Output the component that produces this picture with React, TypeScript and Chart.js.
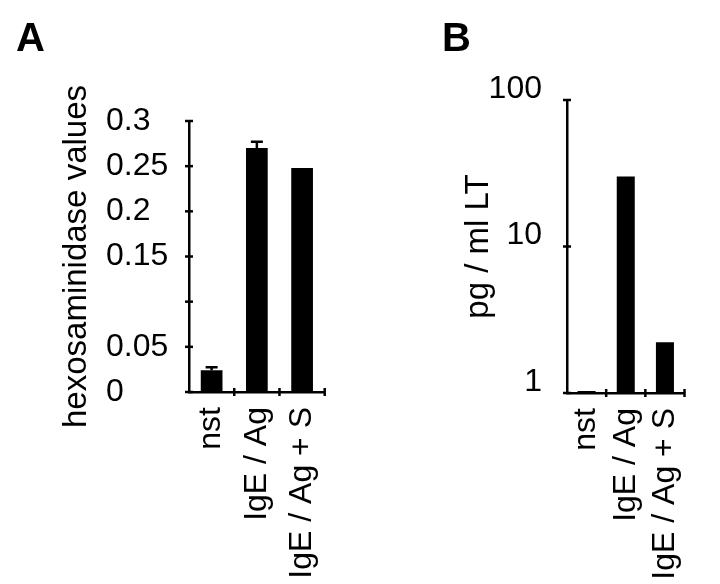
import React, { useEffect, useRef } from "react";
import { Chart, registerables } from "chart.js";

Chart.register(...registerables);

const categories = ["nst", "IgE / Ag", "IgE / Ag + S"];
const hexValues = [0.024, 0.27, 0.248];
const hexErrors = [0.0035, 0.007, 0];
const hexTickValues = [0, 0.05, 0.1, 0.15, 0.2, 0.25, 0.3];
const hexTickLabels = ["0", "0.05", "", "0.15", "0.2", "0.25", "0.3"];
const ltValues = [1.03, 30, 2.22];
const ltTickValues = [1, 10, 100];
const ltTickLabels = ["1", "10", "100"];

const FONT = "'Liberation Sans', Arial, Helvetica, sans-serif";

const crossTicks = {
  id: "crossTicks",
  afterDraw(chart: any) {
    const ctx = chart.ctx;
    const ys = chart.scales.y;
    const xs = chart.scales.x;
    const { left, bottom } = chart.chartArea;
    ctx.save();
    ctx.strokeStyle = "#000";
    ctx.lineWidth = 2.5;
    const line = (x1: number, y1: number, x2: number, y2: number) => {
      ctx.beginPath();
      ctx.moveTo(x1, y1);
      ctx.lineTo(x2, y2);
      ctx.stroke();
    };
    ys.ticks.forEach((t: any) => {
      const py = ys.getPixelForValue(t.value);
      line(left - 4, py, left + 4, py);
    });
    for (let i = 1; i <= categories.length; i++) {
      const px = xs.getPixelForValue(i - 0.5);
      line(px, bottom - 4, px, bottom + 4);
    }
    ctx.restore();
  },
};

const errorBars = {
  id: "errorBars",
  afterDatasetsDraw(chart: any, _args: any, opts: any) {
    const errs: number[] | undefined = opts && opts.errors;
    if (!errs) return;
    const ctx = chart.ctx;
    const ys = chart.scales.y;
    const meta = chart.getDatasetMeta(0);
    const vals = chart.data.datasets[0].data as number[];
    ctx.save();
    ctx.strokeStyle = "#000";
    ctx.lineWidth = 2.5;
    meta.data.forEach((bar: any, i: number) => {
      if (!errs[i]) return;
      const top = ys.getPixelForValue(vals[i] + errs[i]);
      ctx.beginPath();
      ctx.moveTo(bar.x, bar.y);
      ctx.lineTo(bar.x, top);
      ctx.moveTo(bar.x - 6, top);
      ctx.lineTo(bar.x + 6, top);
      ctx.stroke();
    });
    ctx.restore();
  },
};

function PanelA() {
  const ref = useRef<HTMLCanvasElement>(null);
  useEffect(() => {
    const chart = new Chart(ref.current as HTMLCanvasElement, {
      type: "bar",
      data: {
        labels: categories,
        datasets: [
          {
            data: hexValues,
            backgroundColor: "#000",
            borderWidth: 0,
            barPercentage: 0.48,
            categoryPercentage: 1,
          },
        ],
      },
      plugins: [errorBars, crossTicks],
      options: {
        responsive: false,
        animation: false,
        layout: { padding: { left: 16, right: 27, top: 0, bottom: 0 } },
        plugins: {
          legend: { display: false },
          tooltip: { enabled: false },
          title: {
            display: true,
            text: "A",
            align: "start",
            color: "#000",
            font: { family: FONT, size: 40, weight: "bold", lineHeight: 1.2 },
            padding: { top: 16, bottom: 57 },
          },
          errorBars: { errors: hexErrors },
        } as any,
        scales: {
          yTitle: {
            type: "linear",
            position: "left",
            weight: 10,
            grid: { display: false },
            border: { display: false },
            ticks: { display: false },
            title: {
              display: true,
              text: "hexosaminidase values",
              color: "#000",
              font: { family: FONT, size: 33, lineHeight: 1.2 },
              padding: { top: 40.8, bottom: 0 },
            },
            afterFit: (s: any) => {
              s.width = 90;
            },
          },
          y: {
            type: "linear",
            position: "left",
            weight: 0,
            min: 0,
            max: 0.3,
            grid: { display: false, drawTicks: false },
            border: { display: true, color: "#000", width: 2.5 },
            afterBuildTicks: (s: any) => {
              s.ticks = hexTickValues.map((v) => ({ value: v }));
            },
            ticks: {
              crossAlign: "far",
              color: "#000",
              font: { family: FONT, size: 32 },
              callback: (v: any) => hexTickLabels[hexTickValues.indexOf(Number(v))] ?? "",
            },
            afterFit: (s: any) => {
              s.width = 83;
            },
          },
          x: {
            type: "category",
            offset: true,
            grid: { display: false, drawTicks: false },
            border: { display: true, color: "#000", width: 2.5 },
            ticks: {
              autoSkip: false,
              maxRotation: 90,
              minRotation: 90,
              padding: 15,
              color: "#000",
              font: { family: FONT, size: 32 },
            },
            afterFit: (s: any) => {
              s.height = 192;
            },
          },
        } as any,
      },
    });
    return () => chart.destroy();
  }, []);
  return <canvas ref={ref} width={360} height={584} style={{ display: "block" }} />;
}

function PanelB() {
  const ref = useRef<HTMLCanvasElement>(null);
  useEffect(() => {
    const chart = new Chart(ref.current as HTMLCanvasElement, {
      type: "bar",
      data: {
        labels: categories,
        datasets: [
          {
            data: ltValues,
            backgroundColor: "#000",
            borderWidth: 0,
            barPercentage: 0.46,
            categoryPercentage: 1,
          },
        ],
      },
      plugins: [crossTicks],
      options: {
        responsive: false,
        animation: false,
        layout: { padding: { left: 82, right: 10, top: 0, bottom: 0 } },
        plugins: {
          legend: { display: false },
          tooltip: { enabled: false },
          title: {
            display: true,
            text: "B",
            align: "start",
            color: "#000",
            font: { family: FONT, size: 40, weight: "bold", lineHeight: 1.2 },
            padding: { top: 16, bottom: 36 },
          },
        },
        scales: {
          y: {
            type: "logarithmic",
            position: "left",
            min: 1,
            max: 100,
            grid: { display: false, drawTicks: false },
            border: { display: true, color: "#000", width: 2.5 },
            afterBuildTicks: (s: any) => {
              s.ticks = ltTickValues.map((v) => ({ value: v }));
            },
            ticks: {
              padding: 25,
              labelOffset: -11,
              color: "#000",
              font: { family: FONT, size: 32 },
              callback: (v: any) => ltTickLabels[ltTickValues.indexOf(Number(v))] ?? "",
            },
            title: {
              display: true,
              text: "pg / ml LT",
              color: "#000",
              font: { family: FONT, size: 33, lineHeight: 1.2 },
              padding: { top: 17, bottom: 0 },
            },
            afterFit: (s: any) => {
              s.width = 125;
            },
          },
          x: {
            type: "category",
            offset: true,
            grid: { display: false, drawTicks: false },
            border: { display: true, color: "#000", width: 2.5 },
            ticks: {
              autoSkip: false,
              maxRotation: 90,
              minRotation: 90,
              padding: 15,
              color: "#000",
              font: { family: FONT, size: 32 },
            },
            afterFit: (s: any) => {
              s.height = 191;
            },
          },
        } as any,
      },
    });
    return () => chart.destroy();
  }, []);
  return <canvas ref={ref} width={360} height={584} style={{ display: "block" }} />;
}

export default function App() {
  return (
    <div
      style={{
        position: "absolute",
        left: 0,
        top: 0,
        width: 720,
        height: 584,
        display: "flex",
        background: "#fff",
      }}
    >
      <PanelA />
      <PanelB />
    </div>
  );
}
